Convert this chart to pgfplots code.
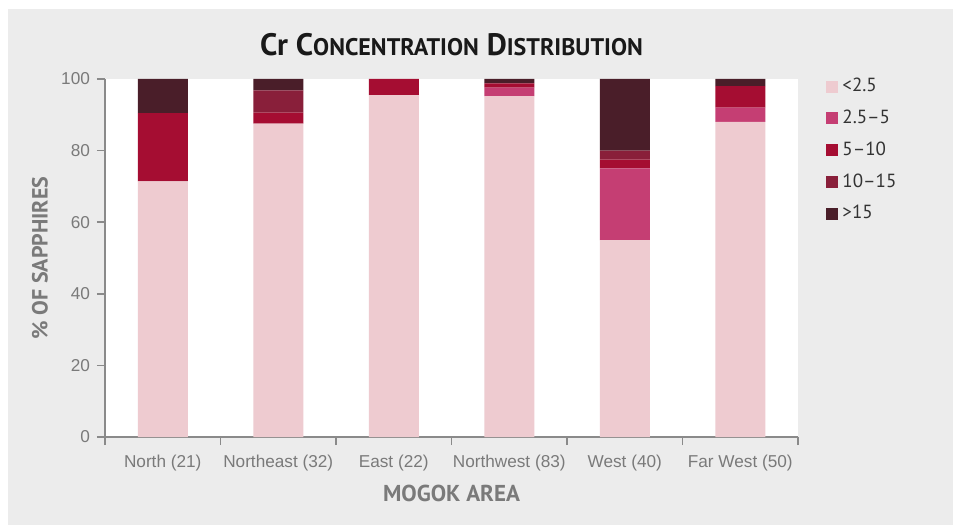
\documentclass[border=0pt]{standalone}
\usepackage{fontspec}
\setmainfont{Liberation Sans}
\newfontfamily\titlefont[Ligatures=TeX]{PT Sans}
\usepackage{pgfplots}
\pgfplotsset{compat=1.18}
\definecolor{bggray}{HTML}{ECECEC}
\definecolor{axgray}{HTML}{8A8A8A}
\definecolor{tickgray}{HTML}{7A7A7A}
\definecolor{cA}{HTML}{EECBD0}
\definecolor{cB}{HTML}{C53E73}
\definecolor{cC}{HTML}{A50D32}
\definecolor{cD}{HTML}{891F3A}
\definecolor{cE}{HTML}{4A1E29}
\begin{document}
\begin{tikzpicture}
\useasboundingbox (0,0) rectangle (476.5pt,262.5pt);
\fill[bggray] (4pt,0) rectangle (476.5pt,258pt);
\begin{axis}[
  at={(52.5pt,44pt)}, anchor=south west,
  scale only axis, width=346.5pt, height=179pt,
  ybar stacked, bar width=25pt,
  xmin=0, xmax=6, ymin=0, ymax=100,
  axis background/.style={fill=white},
  axis x line*=bottom, axis y line*=left,
  axis line style={axgray, line width=0.8pt},
  every tick/.style={axgray, line width=0.8pt},
  tick align=outside, major tick length=4pt,
  xtick={0,1,2,3,4,5,6},
  x tick label as interval,
  xticklabels={North (21),Northeast (32),East (22),Northwest (83),West (40),Far West (50)},
  x tick label style={yshift=-1.5pt},
  ytick={0,20,40,60,80,100},
  tick label style={font=\fontsize{8.6}{10}\selectfont, text=tickgray},
  /pgf/number format/assume math mode=true,
  title={\titlefont\bfseries\fontsize{15.5}{17}\selectfont Cr C{\fontsize{12}{14}\selectfont ONCENTRATION} D{\fontsize{12}{14}\selectfont ISTRIBUTION}},
  title style={at={(0.5,1)}, anchor=center, yshift=11pt, text=black!90},
  xlabel={\titlefont\bfseries\fontsize{11.5}{13}\selectfont MOGOK AREA},
  xlabel style={at={(axis description cs:0.5,-0.159)}, anchor=center, text=tickgray},
  ylabel={\titlefont\bfseries\fontsize{11}{13}\selectfont \% OF SAPPHIRES},
  ylabel style={at={(axis description cs:-0.0938,0.5)}, anchor=center, rotate=0, text=tickgray},
  legend style={at={(1,1)}, anchor=north west, xshift=11pt, yshift=4.5pt, draw=none, fill=none,
    font=\titlefont\fontsize{9.5}{11}\selectfont, text=black!80, row sep=3.6pt, column sep=0pt},
  legend cell align=left,
  legend image code/.code={\fill[#1,draw=none] (0pt,-3pt) rectangle (6pt,3pt);},
]
\addplot[fill=cA, draw=none] coordinates {(0.5,71.4) (1.5,87.5) (2.5,95.5) (3.5,95.2) (4.5,55.0) (5.5,88.0)};
\addplot[fill=cB, draw=none] coordinates {(0.5,0) (1.5,0) (2.5,0) (3.5,2.4) (4.5,20.0) (5.5,4.0)};
\addplot[fill=cC, draw=none] coordinates {(0.5,19.1) (1.5,3.1) (2.5,4.5) (3.5,1.2) (4.5,2.5) (5.5,6.0)};
\addplot[fill=cD, draw=none] coordinates {(0.5,0) (1.5,6.25) (2.5,0) (3.5,0) (4.5,2.5) (5.5,0)};
\addplot[fill=cE, draw=none] coordinates {(0.5,9.5) (1.5,3.15) (2.5,0) (3.5,1.2) (4.5,20.0) (5.5,2.0)};
\legend{<2.5, 2.5\textendash5, 5\textendash10, 10\textendash15, >15}
\end{axis}
\end{tikzpicture}
\end{document}
